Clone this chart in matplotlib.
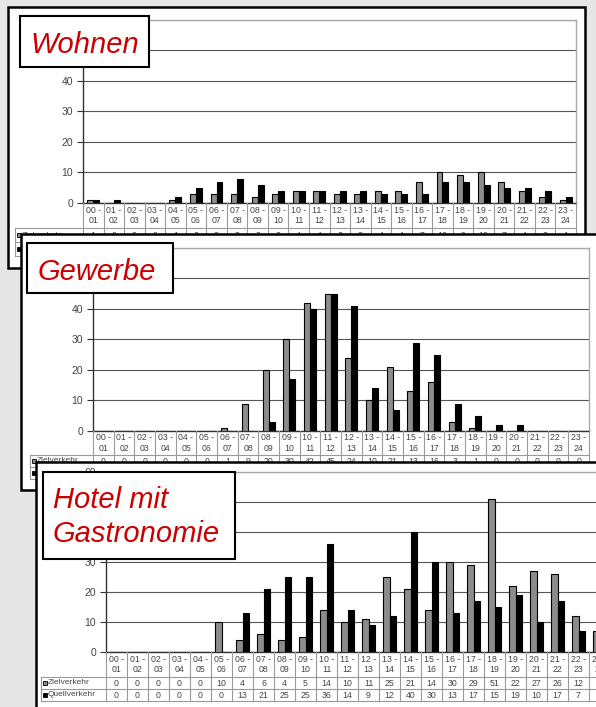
import matplotlib
matplotlib.use("Agg")
import matplotlib.pyplot as plt
from matplotlib.patches import Rectangle
from matplotlib.lines import Line2D
from matplotlib.transforms import Affine2D
import numpy as np

# ---------------- data ----------------
hours = ["00 -\n01", "01 -\n02", "02 -\n03", "03 -\n04", "04 -\n05", "05 -\n06",
         "06 -\n07", "07 -\n08", "08 -\n09", "09 -\n10", "10 -\n11", "11 -\n12",
         "12 -\n13", "13 -\n14", "14 -\n15", "15 -\n16", "16 -\n17", "17 -\n18",
         "18 -\n19", "19 -\n20", "20 -\n21", "21 -\n22", "22 -\n23", "23 -\n24"]
series_names = ["Zielverkehr", "Quellverkehr"]

wohnen_ziel = [1, 0, 0, 0, 1, 3, 3, 3, 2, 3, 4, 4, 3, 3, 4, 4, 7, 10, 9, 10, 7, 4, 2, 1]
wohnen_quell = [1, 1, 0, 0, 2, 5, 7, 8, 6, 4, 4, 4, 4, 4, 3, 3, 3, 7, 7, 6, 5, 5, 4, 2]

gewerbe_ziel = [0, 0, 0, 0, 0, 0, 1, 9, 20, 30, 42, 45, 24, 10, 21, 13, 16, 3, 1, 0, 0, 0, 0, 0]
gewerbe_quell = [0, 0, 0, 0, 0, 0, 0, 0, 3, 17, 40, 45, 41, 14, 7, 29, 25, 9, 5, 2, 2, 0, 0, 0]

hotel_ziel = [0, 0, 0, 0, 0, 10, 4, 6, 4, 5, 14, 10, 11, 25, 21, 14, 30, 29, 51, 22, 27, 26, 12, 7]
hotel_quell = [0, 0, 0, 0, 0, 0, 13, 21, 25, 25, 36, 14, 9, 12, 40, 30, 13, 17, 15, 19, 10, 17, 7, 4]

titles = [["Wohnen"], ["Gewerbe"], ["Hotel mit", "Gastronomie"]]
y_ticks = [0, 10, 20, 30, 40, 50, 60]

# ---------------- figure ----------------
W, H = 596, 707
fig = plt.figure(figsize=(W / 100, H / 100), dpi=100)
fig.patch.set_facecolor("#e6e6e6")
PX = Affine2D().scale(1.0 / W, -1.0 / H).translate(0, 1) + fig.transFigure

GRAY = "#8c8c8c"
TXT = "#444444"
TBL = "#9a9a9a"


def panel(base, frame, plot, legx, rows, tbox, title_lines, title_x, baselines, ziel, quell):
    fx0, fy0, fx1, fy1 = frame
    fig.add_artist(Rectangle((fx0, fy0), fx1 - fx0, fy1 - fy0, transform=PX,
                             facecolor="white", edgecolor="black", lw=1.8,
                             zorder=base))
    px0, ptop, px1, pbot = plot
    ax = fig.add_axes([px0 / W, 1 - pbot / H, (px1 - px0) / W, (pbot - ptop) / H])
    ax.set_zorder(base + 1)
    ax.set_facecolor("white")
    x = np.arange(len(hours))
    bw = 0.29
    ax.bar(x - bw / 2, ziel, bw, color=GRAY, edgecolor="black", lw=0.8, zorder=3)
    ax.bar(x + bw / 2, quell, bw, color="black", edgecolor="black", lw=0.8, zorder=3)
    ax.set_xlim(-0.5, len(hours) - 0.5)
    ax.set_ylim(0, 60)
    ax.set_yticks(y_ticks)
    ax.set_xticks([])
    ax.tick_params(axis="y", length=4, width=0.8, colors="#333333", labelsize=7.5,
                   labelcolor=TXT, pad=3)
    for t in ax.get_yticklabels():
        t.set_family("Liberation Sans")
    ax.yaxis.grid(True, color="#555555", lw=0.8)
    ax.set_axisbelow(True)
    ax.spines["left"].set_color("#333333")
    ax.spines["bottom"].set_color("#333333")
    ax.spines["top"].set_color("#aaaaaa")
    ax.spines["right"].set_color("#aaaaaa")
    for s in ax.spines.values():
        s.set_linewidth(1.0)

    # ---- data table ----
    n = len(hours)
    cw = (px1 - px0) / n
    r0, r1, r2, r3 = rows
    zt = base + 2
    for i in range(n + 1):
        xx = px0 + i * cw
        fig.add_artist(Line2D([xx, xx], [pbot, r3], transform=PX, color=TBL, lw=0.8, zorder=zt))
    for yy in (r1, r2, r3):
        fig.add_artist(Line2D([legx, px0 + n * cw], [yy, yy], transform=PX, color=TBL, lw=0.8, zorder=zt))
    fig.add_artist(Line2D([legx, legx], [r1, r3], transform=PX, color=TBL, lw=0.8, zorder=zt))
    for i, lab in enumerate(hours):
        cx = px0 + (i + 0.5) * cw
        fig.text(cx / W, 1 - ((r0 + r1) / 2) / H, lab, ha="center", va="center",
                 fontsize=6.3, color=TXT, family="Liberation Sans", linespacing=1.25,
                 zorder=zt)
        for vals, ya, yb in ((ziel, r1, r2), (quell, r2, r3)):
            fig.text(cx / W, 1 - ((ya + yb) / 2) / H, str(vals[i]), ha="center", va="center",
                     fontsize=6.3, color=TXT, family="Liberation Sans", zorder=zt)
    for name, col, ya, yb in ((series_names[0], GRAY, r1, r2), (series_names[1], "black", r2, r3)):
        ym = (ya + yb) / 2
        fig.add_artist(Rectangle((legx + 2, ym - 2), 4, 4, transform=PX, facecolor=col,
                                 edgecolor="black", lw=0.6, zorder=zt))
        fig.text((legx + 7) / W, 1 - ym / H, name, ha="left", va="center", fontsize=6,
                 color=TXT, family="Liberation Sans", zorder=zt)

    # ---- title box ----
    bx0, by0, bx1, by1 = tbox
    fig.add_artist(Rectangle((bx0, by0), bx1 - bx0, by1 - by0, transform=PX,
                             facecolor="white", edgecolor="black", lw=1.5, zorder=base + 3))
    for line, bl in zip(title_lines, baselines):
        fig.text(title_x / W, 1 - bl / H, line, ha="left", va="baseline",
                 fontsize=21, color="#cc0000", style="italic", family="Liberation Sans",
                 zorder=base + 4)


panel(10, (8, 7, 585, 268), (83, 19.5, 576, 203), 15, (203, 228, 242, 256),
      (20, 16, 149, 67), titles[0], 30, [53], wohnen_ziel, wohnen_quell)
panel(20, (21, 234, 640, 490), (93, 248, 589, 431), 30, (431, 455, 467, 479),
      (27, 243, 173, 293), titles[1], 38, [280], gewerbe_ziel, gewerbe_quell)
panel(30, (36, 462, 660, 730), (106, 471.5, 610, 652), 41, (652, 677, 689, 701),
      (43, 472, 235, 559), titles[2], 53, [508, 542], hotel_ziel, hotel_quell)

fig.savefig("out.png", dpi=100, facecolor=fig.get_facecolor())
